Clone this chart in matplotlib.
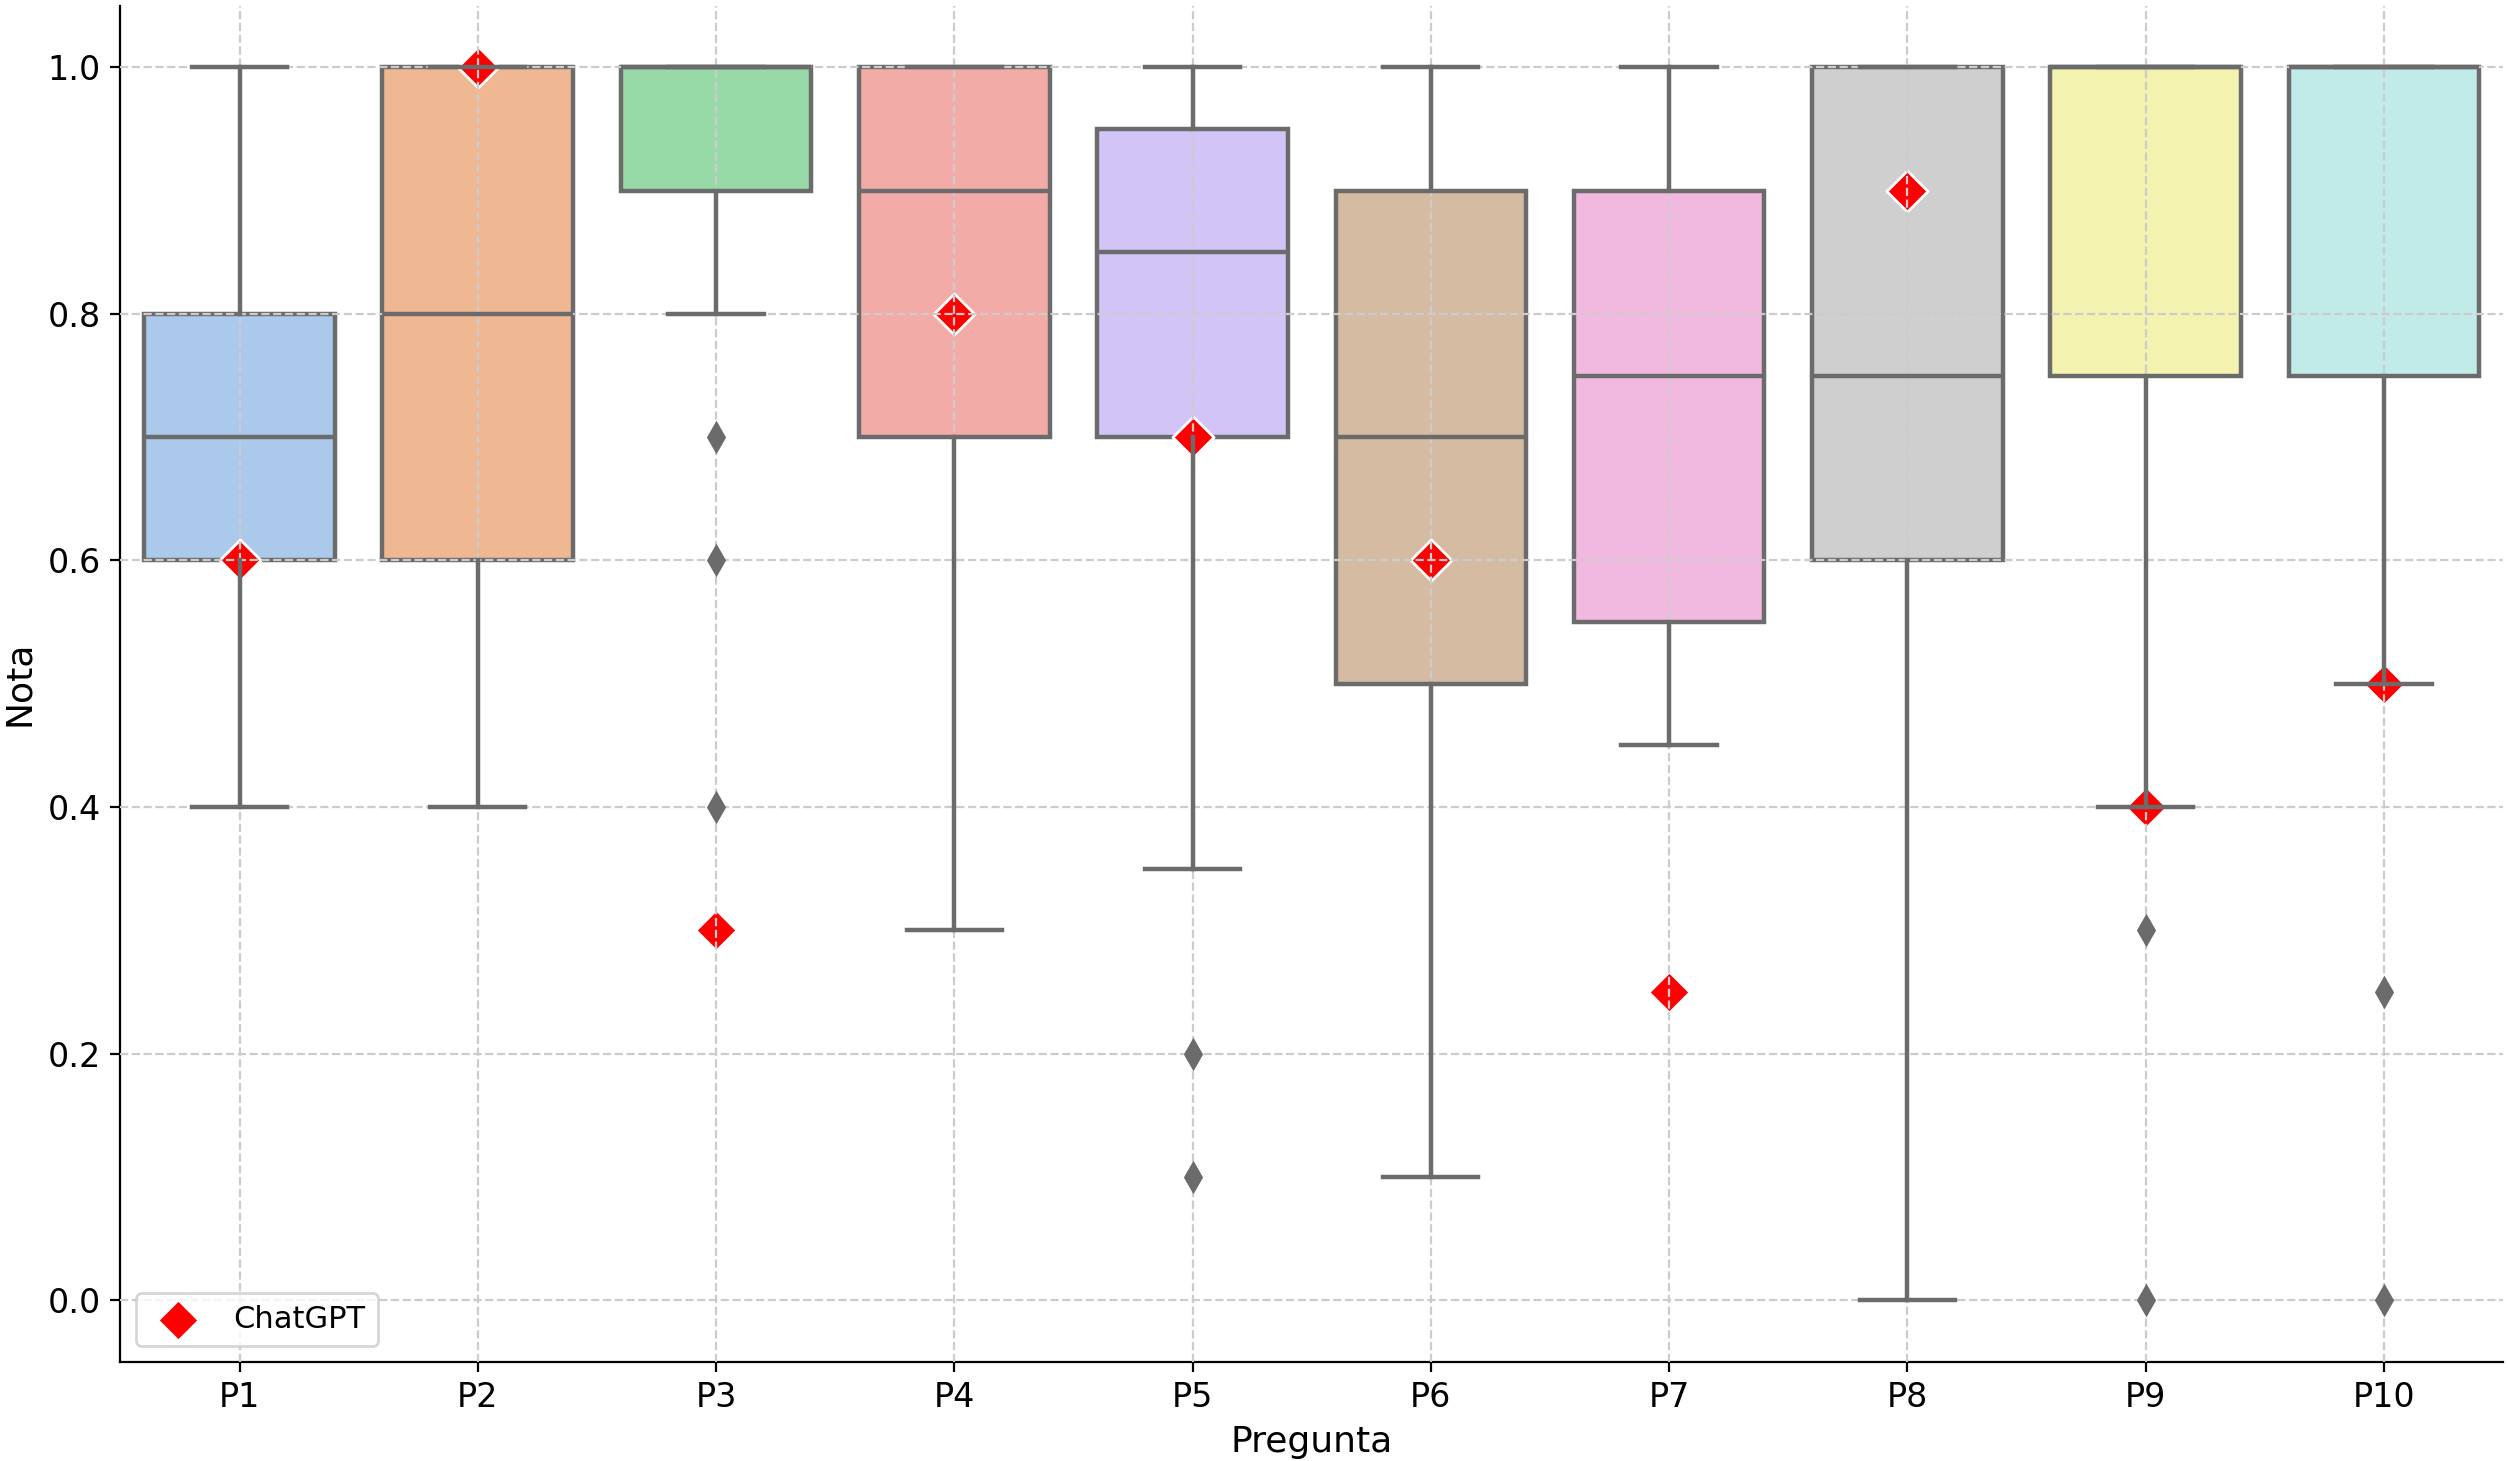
import numpy as np
import matplotlib
matplotlib.use("Agg")
import matplotlib.pyplot as plt
import seaborn as sns

# estadísticas
preguntas = ["P1", "P2", "P3", "P4", "P5", "P6", "P7", "P8", "P9", "P10"]
whis_lo = [0.4, 0.4, 0.8, 0.3, 0.35, 0.1, 0.45, 0.0, 0.4, 0.5]
q1 = [0.6, 0.6, 0.9, 0.7, 0.7, 0.5, 0.55, 0.6, 0.75, 0.75]
mediana = [0.7, 0.8, 1.0, 0.9, 0.85, 0.7, 0.75, 0.75, 1.0, 1.0]
q3 = [0.8, 1.0, 1.0, 1.0, 0.95, 0.9, 0.9, 1.0, 1.0, 1.0]
whis_hi = [1.0, 1.0, 1.0, 1.0, 1.0, 1.0, 1.0, 1.0, 1.0, 1.0]
atipicos = [[], [], [0.7, 0.6, 0.4], [], [0.2, 0.1], [], [], [], [0.3, 0.0], [0.25, 0.0]]
chatgpt = [0.6, 1.0, 0.3, 0.8, 0.7, 0.6, 0.25, 0.9, 0.4, 0.5]

stats = []
for i in range(len(preguntas)):
    stats.append(dict(label=preguntas[i], whislo=whis_lo[i], q1=q1[i], med=mediana[i],
                      q3=q3[i], whishi=whis_hi[i], fliers=atipicos[i]))

colores = [sns.desaturate(c, 0.75) for c in sns.color_palette("pastel", 10)]
gris = "#6b6b6b"
lw = 1.6

fig = plt.figure(figsize=(12.54, 7.305), dpi=200)
ax = fig.add_axes([0.048, 0.068, 0.95, 0.928])

pos = np.arange(len(preguntas))
bp = ax.bxp(stats, positions=pos, widths=0.8, patch_artist=True, showfliers=True,
            boxprops=dict(edgecolor=gris, linewidth=lw),
            whiskerprops=dict(color=gris, linewidth=lw),
            capprops=dict(color=gris, linewidth=lw),
            medianprops=dict(color=gris, linewidth=lw),
            flierprops=dict(marker="d", markerfacecolor=gris, markeredgecolor=gris, markersize=7),
            capwidths=0.4)
for patch, c in zip(bp["boxes"], colores):
    patch.set_facecolor(c)
    patch.set_zorder(1)
for key in ["whiskers", "caps", "medians", "fliers"]:
    for ln in bp[key]:
        ln.set_zorder(3)

ax.scatter(pos, chatgpt, marker="D", s=110, color="red", edgecolor="white",
           linewidth=1.0, zorder=1.5, label="ChatGPT")

ax.set_axisbelow(False)
ax.grid(True, linestyle="--", color="#cccccc", linewidth=0.8, zorder=2.5)
ax.set_xlim(-0.5, 9.5)
ax.set_ylim(-0.05, 1.05)
ax.set_xticks(pos)
ax.set_xticklabels(preguntas)
ax.set_yticks([0.0, 0.2, 0.4, 0.6, 0.8, 1.0])
ax.tick_params(labelsize=12)
ax.spines["top"].set_visible(False)
ax.spines["right"].set_visible(False)
ax.set_xlabel("Pregunta", fontsize=13)
ax.set_ylabel("Nota", fontsize=13)
ax.legend(loc="lower left", fontsize=11)

fig.savefig("out.png", dpi=200)
